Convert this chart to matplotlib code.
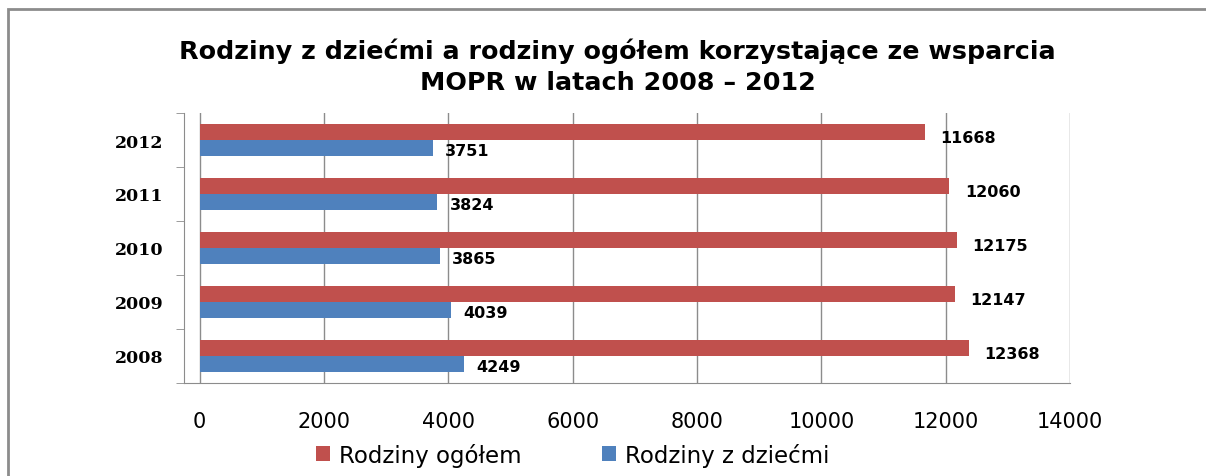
import numpy as np
import matplotlib.pyplot as plt
from matplotlib.patches import Rectangle

years = ["2008", "2009", "2010", "2011", "2012"]
ogolem = [12368, 12147, 12175, 12060, 11668]
z_dziecmi = [4249, 4039, 3865, 3824, 3751]
xticks = [0, 2000, 4000, 6000, 8000, 10000, 12000, 14000]

red = "#C0504D"
blue = "#4F81BD"
gray = "#8c8c8c"

fig = plt.figure(figsize=(12.06, 4.77), dpi=100)
ax = fig.add_axes([0.1526, 0.195, 0.7347, 0.566])

# ramka wokol wykresu
fig.patches.append(Rectangle((0.007, -0.1), 1.2, 1.08, transform=fig.transFigure,
                             fill=False, edgecolor=gray, linewidth=2))

y = np.arange(len(years))
ax.barh(y + 0.15, ogolem, height=0.3, color=red, label="Rodziny ogółem", zorder=3)
ax.barh(y - 0.15, z_dziecmi, height=0.3, color=blue, label="Rodziny z dziećmi", zorder=3)

for i in range(len(years)):
    ax.text(ogolem[i] + 250, y[i] + 0.05, str(ogolem[i]), fontsize=11.5, fontweight="bold",
            va="center", ha="left")
    ax.text(z_dziecmi[i] + 200, y[i] - 0.2, str(z_dziecmi[i]), fontsize=11.5, fontweight="bold",
            va="center", ha="left")

ax.set_xlim(-250, 14000)
ax.set_ylim(-0.5, 4.5)
ax.set_xticks(xticks)
ax.set_xticklabels([str(t) for t in xticks], fontsize=15)
ax.tick_params(axis="x", length=0, pad=20)
ax.set_yticks(y)
ax.set_yticklabels(years, fontsize=12.5, family="DejaVu Serif", fontweight="semibold")
ax.tick_params(axis="y", length=0, pad=15)
ax.set_yticks(np.arange(-0.5, 5.0, 1.0), minor=True)
ax.tick_params(axis="y", which="minor", length=6, color=gray)
ax.grid(axis="x", color=gray, linewidth=1, zorder=0)
for s in ["top", "right"]:
    ax.spines[s].set_visible(False)
ax.spines["left"].set_color(gray)
ax.spines["bottom"].set_color(gray)

fig.suptitle("Rodziny z dziećmi a rodziny ogółem korzystające ze wsparcia\nMOPR w latach 2008 – 2012",
             x=0.512, y=0.92, fontsize=18.3, fontweight="bold", linespacing=1.4)

fig.legend(loc="lower center", bbox_to_anchor=(0.475, -0.024), ncol=2, frameon=False,
           fontsize=16.5, handlelength=0.6, handleheight=0.6, columnspacing=3.5,
           handletextpad=0.4)

fig.savefig("out.png", dpi=100)
